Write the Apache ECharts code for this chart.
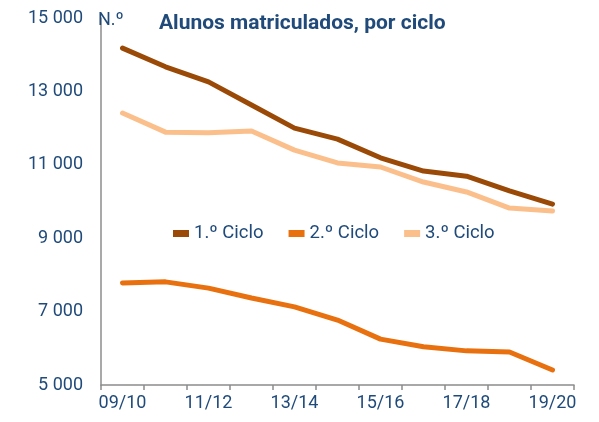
<!DOCTYPE html>
<html><head><meta charset="utf-8">
<script src="https://cdn.jsdelivr.net/npm/echarts@6/dist/echarts.min.js"></script>
<style>html,body{margin:0;padding:0;background:#fff}#c{width:599px;height:422px}</style>
</head><body><div id="c"></div>
<script>
const categories = ['09/10','10/11','11/12','12/13','13/14','14/15','15/16','16/17','17/18','18/19','19/20'];
const ciclo1 = [14180, 13670, 13260, 12630, 12000, 11700, 11190, 10830, 10690, 10290, 9930];
const ciclo2 = [7780, 7810, 7640, 7370, 7130, 6770, 6250, 6040, 5930, 5900, 5410];
const ciclo3 = [12410, 11890, 11870, 11920, 11400, 11050, 10940, 10530, 10260, 9820, 9740];
const seriesNames = ['1.º Ciclo', '2.º Ciclo', '3.º Ciclo'];
const yTicks = [5000, 7000, 9000, 11000, 13000, 15000];

const txt = '#1f4a7a';
const font = 'Roboto';
const colors = ['#9a4a06', '#e8700f', '#fbbf8c'];
const chart = echarts.init(document.getElementById('c'), null, {renderer: 'canvas'});
const fmt = v => String(v).replace(/\B(?=(\d{3})+(?!\d))/g, ' ');
chart.setOption({
  animation: false,
  title: [
    {text: 'Alunos matriculados, por ciclo', left: 154, top: 8,
     textStyle: {color: txt, fontFamily: font, fontWeight: 'bold', fontSize: 21}},
    {text: 'N.º', left: 93, top: 6,
     textStyle: {color: txt, fontFamily: font, fontWeight: 'normal', fontSize: 18}}
  ],
  legend: {
    top: 219, left: 168, itemGap: 25, itemWidth: 16, itemHeight: 7,
    icon: 'rect',
    textStyle: {color: txt, fontFamily: font, fontSize: 18.5},
    data: seriesNames
  },
  grid: {left: 101, right: 25, top: 18, bottom: 37},
  xAxis: {
    type: 'category', data: categories, boundaryGap: true,
    axisLine: {lineStyle: {color: '#8c8c8c', width: 1.5}},
    axisTick: {show: true, interval: 0, length: 5, lineStyle: {color: '#8c8c8c', width: 1.5}},
    axisLabel: {interval: 1, color: txt, fontFamily: font, fontSize: 18, margin: 9}
  },
  yAxis: {
    type: 'value', min: yTicks[0], max: yTicks[yTicks.length - 1], interval: 2000,
    axisLine: {show: true, lineStyle: {color: '#8c8c8c', width: 1.5}},
    axisTick: {show: false},
    splitLine: {show: false},
    axisLabel: {color: txt, fontFamily: font, fontSize: 18, margin: 18, formatter: fmt}
  },
  series: [ciclo1, ciclo2, ciclo3].map((d, i) => ({
    name: seriesNames[i], type: 'line', data: d, symbol: 'none',
    color: colors[i],
    lineStyle: {width: 5, color: colors[i], cap: 'round', join: 'round'}
  }))
});
</script></body></html>
